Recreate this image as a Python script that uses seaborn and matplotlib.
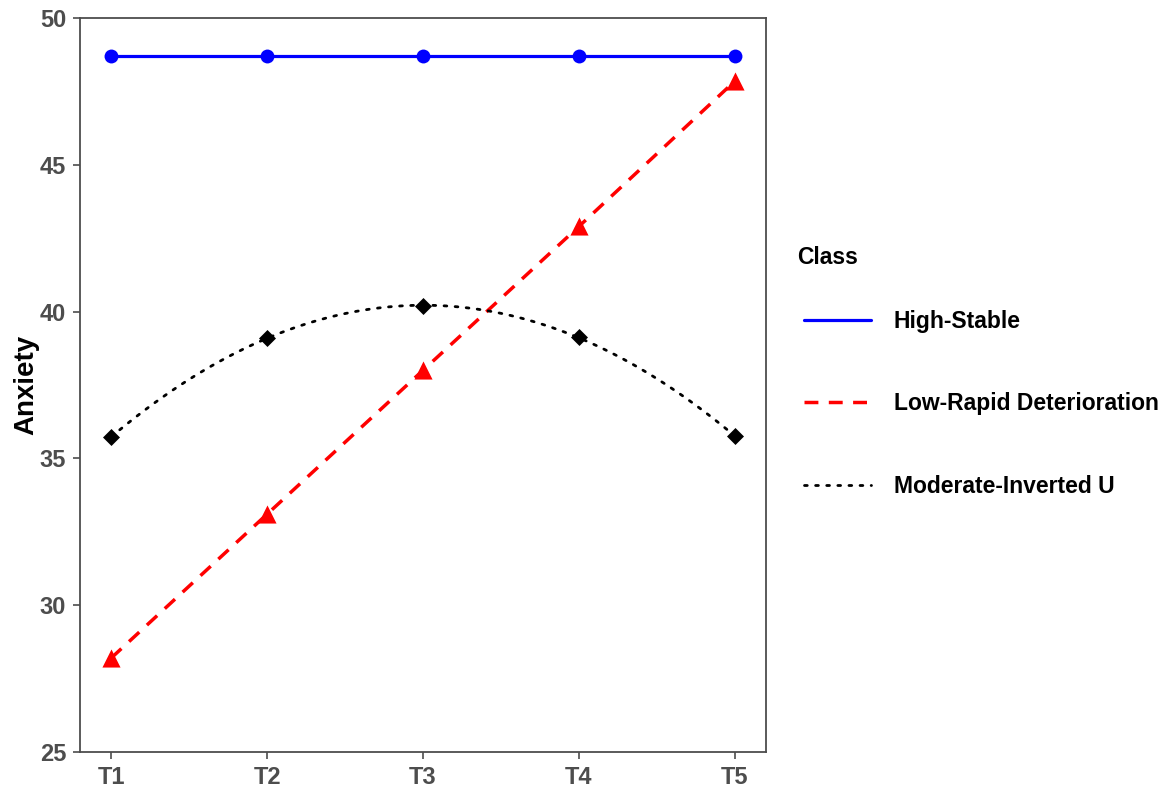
import numpy as np
import pandas as pd
import matplotlib
matplotlib.use("Agg")
import matplotlib.pyplot as plt
from matplotlib.lines import Line2D
import seaborn as sns

# values
times = ["T1", "T2", "T3", "T4", "T5"]
high_stable = [48.7, 48.7, 48.7, 48.7, 48.7]
low_rapid = [28.2, 33.1, 38.0, 42.9, 47.85]
moderate_u = [35.73, 39.1, 40.2, 39.12, 35.76]
class_names = ["High-Stable", "Low-Rapid Deterioration", "Moderate-Inverted U"]

sns.set_theme(style="white")
plt.rcParams["font.family"] = ["Liberation Sans", "DejaVu Sans"]
plt.rcParams["text.color"] = "black"

x = np.arange(len(times))
df = pd.DataFrame({
    "time": np.tile(x, 3),
    "anxiety": high_stable + low_rapid + moderate_u,
    "Class": np.repeat(class_names, len(times)),
})

fig = plt.figure(figsize=(11.68, 7.91), dpi=100)
ax = fig.add_axes([80 / 1168, 39 / 791, 686 / 1168, 734 / 791])

hs = df[df["Class"] == class_names[0]]
lr = df[df["Class"] == class_names[1]]
mu = df[df["Class"] == class_names[2]]

dotted = (0, (1, 3))
dashed = (0, (4, 3))

# High-Stable: solid blue with circles
sns.lineplot(data=hs, x="time", y="anxiety", color="blue", lw=2.3,
             marker="o", markersize=10, markeredgewidth=0, ax=ax, legend=False)

# Low-Rapid Deterioration: dashed red with triangles
sns.lineplot(data=lr, x="time", y="anxiety", color="red", lw=2.5,
             ax=ax, legend=False, linestyle=dashed)
sns.scatterplot(data=lr, x="time", y="anxiety", color="red", marker="^",
                s=170, linewidth=0, ax=ax, legend=False, zorder=3)

# Moderate-Inverted U: dotted black quadratic fit with diamonds
sns.regplot(data=mu, x="time", y="anxiety", order=2, ci=None, scatter=False,
            truncate=True, ax=ax,
            line_kws={"color": "black", "lw": 2.0, "linestyle": dotted,
                      "dash_capstyle": "round"})
sns.scatterplot(data=mu, x="time", y="anxiety", color="black", marker="D",
                s=75, linewidth=0, ax=ax, legend=False, zorder=3)

ax.set_xlim(-0.2, 4.2)
ax.set_ylim(25, 50)
ax.set_xticks(x)
ax.set_xticklabels(times)
ax.set_yticks([25, 30, 35, 40, 45, 50])
ax.set_xlabel("")
ax.set_ylabel("Anxiety", fontsize=20, fontweight="bold", color="black", labelpad=0.5)

for lab in ax.get_xticklabels() + ax.get_yticklabels():
    lab.set_fontweight("bold")
    lab.set_fontsize(17)
    lab.set_color("#4D4D4D")
ax.tick_params(axis="both", which="major", length=5, width=1.2, color="#4D4D4D",
               direction="out", bottom=True, left=True, pad=5)
for sp in ax.spines.values():
    sp.set_color("#4D4D4D")
    sp.set_linewidth(1.3)

# legend title placed on its own, ggplot-style gap
fig.text(797 / 1168, 1 - 258 / 791, "Class", fontsize=16.5, fontweight="bold",
         color="black", ha="left", va="center")

handles = [
    Line2D([], [], color="blue", lw=2.3),
    Line2D([], [], color="red", lw=2.5, linestyle=dashed),
    Line2D([], [], color="black", lw=2.0, linestyle=dotted, dash_capstyle="round"),
]
leg = fig.legend(handles, class_names, loc="center left",
                 bbox_to_anchor=(795 / 1168, 1 - 404 / 791), frameon=False,
                 handlelength=2.9, handletextpad=1.0, labelspacing=2.6,
                 borderaxespad=0, prop={"weight": "bold", "size": 16.5})
for t in leg.get_texts():
    t.set_color("black")

fig.savefig("out.png", dpi=100)
